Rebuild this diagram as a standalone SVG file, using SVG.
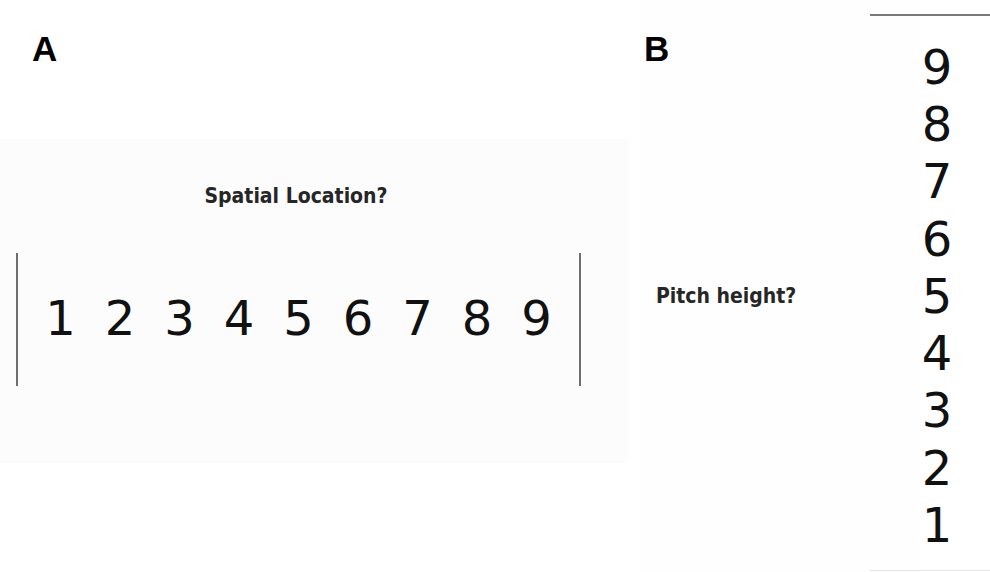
<svg xmlns="http://www.w3.org/2000/svg" width="990" height="572" viewBox="0 0 990 572">
  <style>
    .panel-label { font-family: "Liberation Sans", Arial, sans-serif; font-weight: bold; font-size: 35px; fill: #000; }
    .prompt { font-family: "DejaVu Sans Condensed", "DejaVu Sans", sans-serif; font-stretch: condensed; font-weight: bold; font-size: 21px; fill: #262626; }
    .digit { font-family: "DejaVu Sans", sans-serif; font-size: 48px; fill: #111; text-anchor: middle; }
    .bar { stroke: #6e6e6e; stroke-width: 2; }
  </style>
  <rect width="990" height="572" fill="#ffffff"/>

  <!-- Panel A: horizontal response scale -->
  <g id="panel-a">
    <rect x="0" y="139" width="629" height="324" fill="#fcfcfc"/>
    <text class="panel-label" x="32" y="61">A</text>
    <text class="prompt" x="296" y="203" text-anchor="middle">Spatial Location?</text>
    <line class="bar" x1="17" y1="253" x2="17" y2="386"/>
    <line class="bar" x1="580" y1="253" x2="580" y2="386"/>
    <g id="scale-horizontal">
      <text class="digit" x="60.5" y="335">1</text>
      <text class="digit" x="120" y="335">2</text>
      <text class="digit" x="179.5" y="335">3</text>
      <text class="digit" x="239" y="335">4</text>
      <text class="digit" x="298.5" y="335">5</text>
      <text class="digit" x="358" y="335">6</text>
      <text class="digit" x="417.5" y="335">7</text>
      <text class="digit" x="477" y="335">8</text>
      <text class="digit" x="536.5" y="335">9</text>
    </g>
  </g>

  <!-- Panel B: vertical response scale -->
  <g id="panel-b">
    <rect x="641" y="0" width="279" height="572" fill="#fefefe"/>
    <text class="panel-label" x="644" y="61">B</text>
    <text class="prompt" x="656" y="303">Pitch height?</text>
    <line x1="870" y1="15" x2="990" y2="15" stroke="#7a7a7a" stroke-width="2"/>
    <line x1="870" y1="570.5" x2="990" y2="570.5" stroke="#e4e4e4" stroke-width="1"/>
    <g id="scale-vertical">
      <text class="digit" x="937" y="84">9</text>
      <text class="digit" x="937" y="141">8</text>
      <text class="digit" x="937" y="198">7</text>
      <text class="digit" x="937" y="256">6</text>
      <text class="digit" x="937" y="313">5</text>
      <text class="digit" x="937" y="370">4</text>
      <text class="digit" x="937" y="427">3</text>
      <text class="digit" x="937" y="485">2</text>
      <text class="digit" x="937" y="542">1</text>
    </g>
  </g>
</svg>
